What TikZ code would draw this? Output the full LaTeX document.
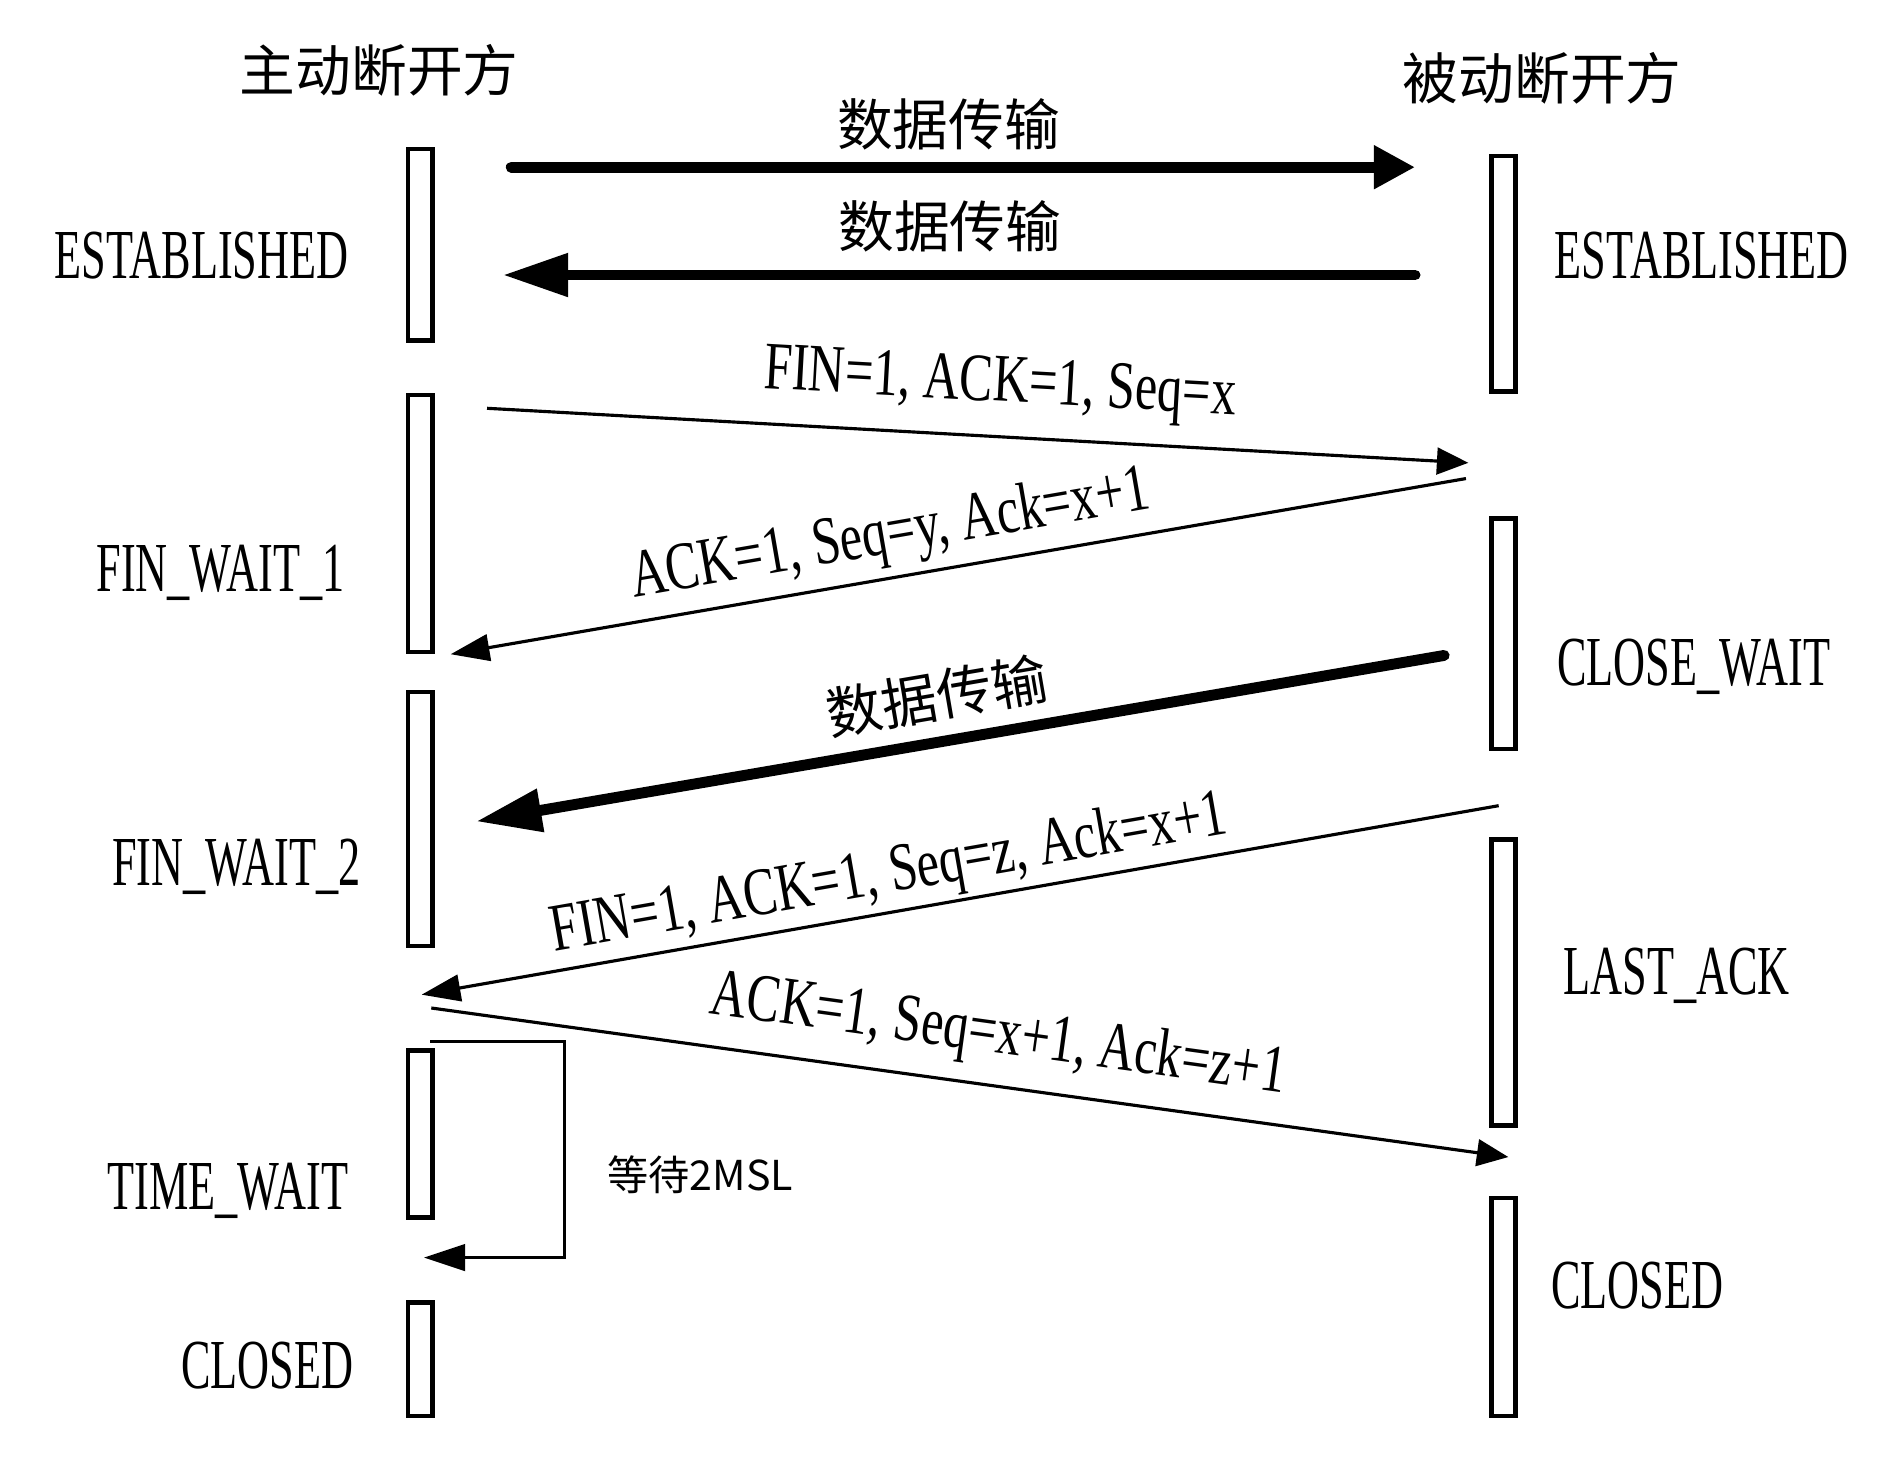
\documentclass[tikz,border=0pt]{standalone}
\usepackage{fontspec}
\usepackage{graphicx}
\setmainfont{Liberation Serif}
\newfontfamily\cjk{Noto Sans CJK SC}
\usetikzlibrary{arrows.meta,positioning}

\newcommand{\stname}[1]{\scalebox{0.63}[1]{#1}}
\newcommand{\msgname}[1]{\scalebox{0.74}[1]{#1}}

\begin{document}
\begin{tikzpicture}[x=0.5pt,y=-0.5pt,
    bar/.style={draw,line width=1.8pt,minimum width=10pt,inner sep=0pt},
    stlabel/.style={font=\fontsize{29}{30}\selectfont,inner sep=0pt},
    side/.style={font=\cjk\fontsize{23}{24}\selectfont,inner sep=0pt},
    data/.style={line width=4.5pt,line cap=round,-{Triangle[length=#1,width=17pt]}},
    data/.default=27pt,
    msg/.style={line width=1.3pt,-{Triangle[length=#1,width=11pt]}},
    msg/.default=13pt,
    datalbl/.style={font=\cjk\fontsize{23}{24}\selectfont,inner sep=1pt,sloped},
    msglbl/.style={font=\fontsize{28}{29}\selectfont,inner sep=1pt,sloped}]

  \useasboundingbox (0,0) rectangle (1560,1205);

  % the two sides
  \node[side] (act) at (313,58) {主动断开方};
  \node[side] (pas) at (1273,65) {被动断开方};

  % state bars
  \node[bar,minimum height=79pt] (L1) at (347,202) {};
  \node[bar,minimum height=106pt] (L2) at (347,432) {};
  \node[bar,minimum height=105pt] (L3) at (347,676) {};
  \node[bar,minimum height=69pt] (L4) at (347,936) {};
  \node[bar,minimum height=47pt] (L5) at (347,1122) {};

  \node[bar,minimum height=97pt] (R1) at (1241,226) {};
  \node[bar,minimum height=95pt] (R2) at (1241,523) {};
  \node[bar,minimum height=118pt] (R3) at (1241,811) {};
  \node[bar,minimum height=90pt] (R4) at (1241,1079) {};

  % state names
  \node[stlabel,anchor=base east] (sL1) at (288,230) {\stname{ESTABLISHED}};
  \node[stlabel,anchor=base east] (sL2) at (285,488) {\stname{FIN\_WAIT\_1}};
  \node[stlabel,anchor=base east] (sL3) at (298,731) {\stname{FIN\_WAIT\_2}};
  \node[stlabel,anchor=base east] (sL4) at (288,998) {\stname{TIME\_WAIT}};
  \node[stlabel,anchor=base east] (sL5) at (292,1146) {\stname{CLOSED}};

  \node[stlabel,anchor=base west] (sR1) at (1283,230) {\stname{ESTABLISHED}};
  \node[stlabel,anchor=base west] (sR2) at (1285,566) {\stname{CLOSE\_WAIT}};
  \node[stlabel,anchor=base west] (sR3) at (1290,821) {\stname{LAST\_ACK}};
  \node[stlabel,anchor=base west] (sR4) at (1280,1080) {\stname{CLOSED}};

  % ends of the messages
  \coordinate (d1s) at (422,138);  \coordinate (d1e) at (1168,138);
  \coordinate (d2s) at (1168,227); \coordinate (d2e) at (415,227);
  \coordinate (f1s) at (402,337);  \coordinate (f1e) at (1212,382);
  \coordinate (a1s) at (1210,395); \coordinate (a1e) at (372,540);
  \coordinate (d3s) at (1192,541); \coordinate (d3e) at (393,678);
  \coordinate (f2s) at (1237,665); \coordinate (f2e) at (348,821);
  \coordinate (a2s) at (356,832);  \coordinate (a2e) at (1245,955);
  \coordinate (w1) at (355,860);   \coordinate (wc) at (466,1038);
  \coordinate (w2) at (350,1038);

  \draw[data=17pt] (d1s) -- node[datalbl,above=4pt,pos=0.484] {数据传输} (d1e);
  \draw[data] (d2s) -- node[datalbl,above=6pt,pos=0.51] {数据传输} (d2e);
  \draw[msg] (f1s) -- node[msglbl,above=7pt,pos=0.52] {\msgname{FIN=1, ACK=1, Seq=x}} (f1e);
  \draw[msg=16pt] (a1s) -- node[msglbl,above=2.5pt,pos=0.56] {\msgname{ACK=1, Seq=y, Ack=x+1}} (a1e);
  \draw[data] (d3s) -- node[datalbl,above=5pt,pos=0.516] {数据传输} (d3e);
  \draw[msg=16pt] (f2s) -- node[msglbl,above=0.5pt,pos=0.56] {\msgname{FIN=1, ACK=1, Seq=z, Ack=x+1}} (f2e);
  \draw[msg] (a2s) -- node[msglbl,above=6pt,pos=0.52] {\msgname{ACK=1, Seq=x+1, Ack=z+1}} (a2e);

  % waiting 2MSL
  \draw[line width=1.2pt,-{Triangle[length=17pt,width=11pt]}] (w1) -| (wc) -- (w2);
  \node[font=\cjk\fontsize{17}{18}\selectfont] (msl) at (578,970) {等待2MSL};

\end{tikzpicture}
\end{document}
